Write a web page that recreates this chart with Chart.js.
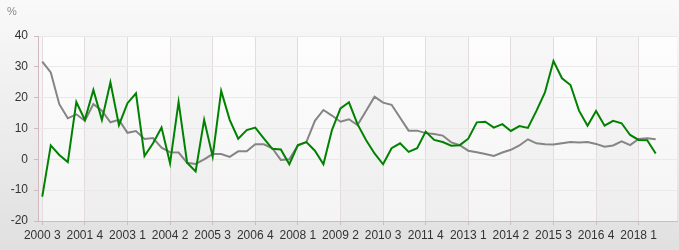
<!DOCTYPE html>
<html><head><meta charset="utf-8">
<script src="https://cdn.jsdelivr.net/npm/chart.js@4/dist/chart.umd.min.js"></script>
<style>html,body{margin:0;padding:0;background:#fff}#wrap{width:679px;height:250px}</style>
</head><body><div id="wrap"><canvas id="c" width="679" height="250"></canvas></div>
<script>
const categories = [
"2000 3","2000 4",
"2001 1","2001 2","2001 3","2001 4",
"2002 1","2002 2","2002 3","2002 4",
"2003 1","2003 2","2003 3","2003 4",
"2004 1","2004 2","2004 3","2004 4",
"2005 1","2005 2","2005 3","2005 4",
"2006 1","2006 2","2006 3","2006 4",
"2007 1","2007 2","2007 3","2007 4",
"2008 1","2008 2","2008 3","2008 4",
"2009 1","2009 2","2009 3","2009 4",
"2010 1","2010 2","2010 3","2010 4",
"2011 1","2011 2","2011 3","2011 4",
"2012 1","2012 2","2012 3","2012 4",
"2013 1","2013 2","2013 3","2013 4",
"2014 1","2014 2","2014 3","2014 4",
"2015 1","2015 2","2015 3","2015 4",
"2016 1","2016 2","2016 3","2016 4",
"2017 1","2017 2","2017 3","2017 4",
"2018 1","2018 2","2018 3","2018 4",
"2019 1"];
const greenSeries = [-12.1, 4.5, 1.4, -0.9, 18.6, 12.8, 22.5, 12.8, 25.0, 11.1, 18.2, 21.4, 1.1, 5.2, 10.3, -1.3, 18.6, -1.1, -3.9, 12.8, 0.9, 22.2, 12.8, 6.7, 9.5, 10.3, 6.8, 3.4, 3.2, -1.6, 4.6, 5.6, 2.8, -1.6, 9.5, 16.5, 18.5, 11.4, 6.3, 1.9, -1.6, 3.6, 5.2, 2.4, 3.6, 9.0, 6.3, 5.6, 4.4, 4.6, 6.7, 12.0, 12.2, 10.3, 11.4, 9.2, 10.8, 10.2, 15.7, 21.7, 31.9, 26.3, 24.1, 15.8, 10.9, 15.7, 10.9, 12.5, 11.7, 7.9, 6.3, 6.2, 1.9];
const graySeries = [31.7, 28.2, 17.9, 13.3, 14.6, 12.5, 17.9, 15.8, 12.0, 12.8, 8.6, 9.2, 6.6, 6.9, 3.8, 2.3, 2.2, -1.1, -1.5, 0, 1.7, 1.7, 0.8, 2.6, 2.6, 4.9, 4.9, 3.6, -0.2, 0, 4.5, 5.6, 12.5, 16.0, 14.2, 12.2, 13.0, 11.1, 15.7, 20.3, 18.4, 17.7, 13.5, 9.3, 9.3, 8.5, 8.2, 7.7, 5.5, 4.6, 2.8, 2.3, 1.7, 1.1, 2.2, 3.1, 4.5, 6.5, 5.2, 4.9, 4.8, 5.2, 5.6, 5.5, 5.6, 5.0, 4.1, 4.5, 5.8, 4.6, 6.6, 6.8, 6.5];
const yMin = -20, yMax = 40, yStep = 10;
const labelEvery = 5;
const unitLabel = '%';

const bgPlugin = {
  id: 'bg',
  beforeDraw(chart) {
    const {ctx, width, height, chartArea: a, scales} = chart;
    ctx.save();
    let g = ctx.createLinearGradient(0, 0, 0, height);
    g.addColorStop(0, '#f9f9f9');
    g.addColorStop(1, '#e0e0e0');
    ctx.fillStyle = g;
    ctx.fillRect(0, 0, width, height);
    g = ctx.createLinearGradient(0, a.top, 0, a.bottom);
    g.addColorStop(0, '#fdfdfd');
    g.addColorStop(1, '#f4f4f4');
    ctx.fillStyle = g;
    ctx.fillRect(a.left, a.top, a.right - a.left, a.bottom - a.top);
    const x = scales.x;
    ctx.fillStyle = 'rgba(0,0,0,0.022)';
    for (let k = -1; k * labelEvery < categories.length; k++) {
      if (Math.abs(k % 2) !== 1) continue;
      const x0 = Math.max(a.left, k < 0 ? a.left : x.getPixelForValue(k * labelEvery));
      const idx1 = (k + 1) * labelEvery;
      const x1 = idx1 < categories.length ? x.getPixelForValue(idx1) : a.right;
      ctx.fillRect(x0, a.top, Math.min(x1, a.right) - x0, a.bottom - a.top);
    }
    ctx.restore();
  },
  afterDraw(chart) {
    const ctx = chart.ctx;
    ctx.save();
    ctx.fillStyle = '#8a8a8a';
    ctx.font = '11px "Liberation Sans", Arial, sans-serif';
    ctx.textBaseline = 'middle';
    ctx.fillText(unitLabel, 7, 12);
    ctx.restore();
  }
};

new Chart(document.getElementById('c'), {
  type: 'line',
  data: {
    labels: categories,
    datasets: [
      {label: 'A', data: greenSeries, borderColor: '#008200', borderWidth: 2, pointRadius: 0, tension: 0, fill: false},
      {label: 'B', data: graySeries, borderColor: '#858585', borderWidth: 2, pointRadius: 0, tension: 0, fill: false}
    ]
  },
  options: {
    responsive: false,
    animation: false,
    devicePixelRatio: 1,
    layout: {padding: {top: 36, right: 2, left: 0, bottom: 0}},
    plugins: {legend: {display: false}, tooltip: {enabled: false}},
    scales: {
      x: {
        offset: true,
        grid: {offset: false, color: '#e2dcdd', tickColor: '#d2b9bf', tickLength: 4, drawTicks: true},
        border: {color: '#d2b9bf', width: 1},
        ticks: {
          autoSkip: false, maxRotation: 0, minRotation: 0, padding: 3,
          color: '#333', font: {size: 12, family: '"Liberation Sans", Arial, sans-serif'},
          callback: (v, i) => (i % labelEvery === 0 ? categories[i] : null)
        },
        afterFit: s => { s.height = 29; }
      },
      y: {
        min: yMin, max: yMax,
        grid: {color: '#ebe8e8', tickColor: '#d2b9bf', tickLength: 4},
        border: {color: '#d2b9bf', width: 1},
        ticks: {stepSize: yStep, padding: 6, color: '#333', font: {size: 12, family: '"Liberation Sans", Arial, sans-serif'}},
        afterFit: s => { s.width = 38; }
      }
    }
  },
  plugins: [bgPlugin]
});
</script></body></html>
